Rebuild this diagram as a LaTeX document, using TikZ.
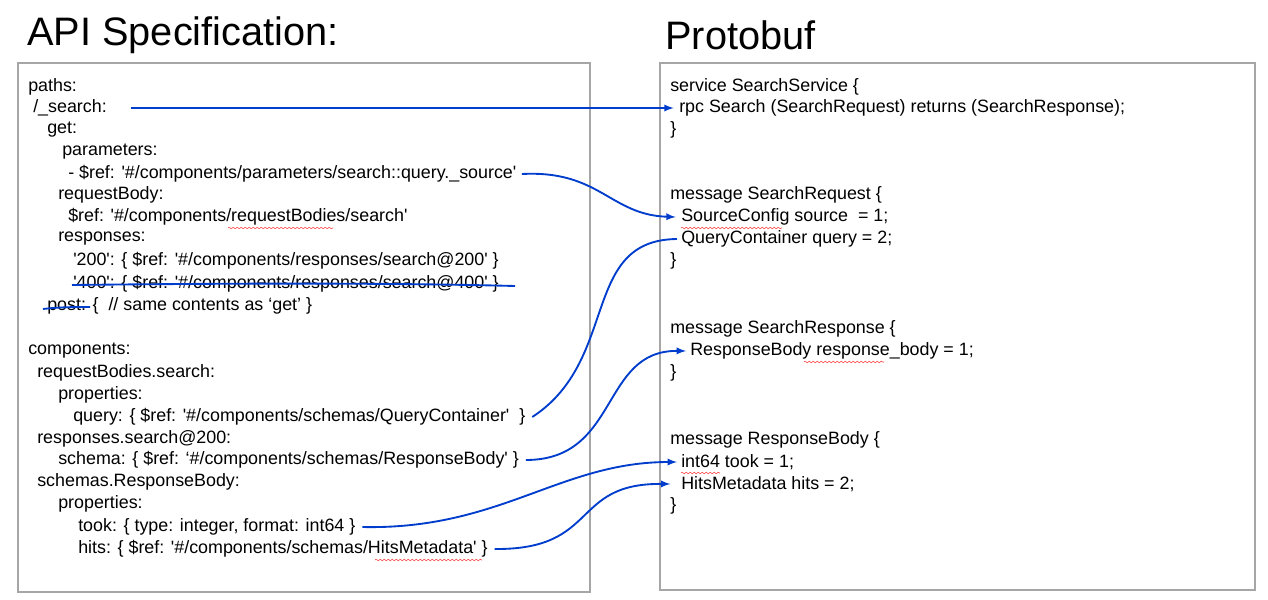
\documentclass[tikz,border=0pt]{standalone}
\usepackage{fontspec}
\setmainfont{Liberation Sans}[Ligatures=TeXOff]
\usetikzlibrary{decorations.pathmorphing}
\newcommand\qt{\symbol{39}}
\begin{document}
\begin{tikzpicture}[x=0.75pt,y=-0.75pt,
  t/.style={anchor=west,inner sep=0pt,font=\fontsize{13.4}{15}\selectfont},
  ttl/.style={anchor=west,inner sep=0pt,font=\fontsize{29.8}{33}\selectfont},
  box/.style={draw=black!35,line width=0.8pt},
  ar/.style={draw=blue!70!cyan!80!black,line width=1.4pt,-latex},
  ln/.style={draw=blue!70!cyan!80!black,line width=1.4pt},
  sq/.style={draw=red!80,line width=0.4pt,decorate,decoration={snake,amplitude=0.6pt,segment length=3pt}}]
\useasboundingbox (0,0) rectangle (1268,600);
\node[ttl] (t1) at (27,35) {API Specification:};
\node[ttl] (t2) at (665,35) {Protobuf};
\draw[box] (18,63) rectangle (590,592);
\draw[box] (660,63) rectangle (1255,590);
% left
\node[t] (l1) at (28,87) {paths:};
\node[t] (l2) at (33,108) {/\_search:};
\node[t] (l3) at (47,130) {get:};
\node[t] (l4) at (62,152) {parameters:};
\node[t] (l5) at (68,174) {- \$ref: \qt\#/components/parameters/search::query.\_source\qt};
\node[t] (l6) at (58,195) {requestBody:};
\node[t] (l7) at (68,217) {\$ref: \qt\#/components/requestBodies/search\qt};
\node[t] (l8) at (58,239) {responses:};
\node[t] (l9) at (73,261) {\qt200\qt: \{ \$ref: \qt\#/components/responses/search@200\qt\ \}};
\node[t] (l10) at (73,284) {\qt400\qt: \{ \$ref: \qt\#/components/responses/search@400\qt\ \}};
\node[t] (l11) at (47,306) {post: \{ ~// same contents as ‘get’ \}};
\node[t] (l12) at (28,351) {components:};
\node[t] (l13) at (37,373) {requestBodies.search:};
\node[t] (l14) at (58,395) {properties:};
\node[t] (l15) at (73,417) {query: \{ \$ref: \qt\#/components/schemas/QueryContainer\qt\ ~\}};
\node[t] (l16) at (37,439) {responses.search@200:};
\node[t] (l17) at (58,460) {schema: \{ \$ref: ‘\#/components/schemas/ResponseBody\qt\ \}};
\node[t] (l18) at (37,482) {schemas.ResponseBody:};
\node[t] (l19) at (58,504) {properties:};
\node[t] (l20) at (78,527) {took: \{ type: integer, format: int64 \}};
\node[t] (l21) at (78,549) {hits: \{ \$ref: \qt\#/components/schemas/HitsMetadata\qt\ \}};
% right
\node[t] (r1) at (670,87) {service SearchService \{};
\node[t] (r2) at (679,108) {rpc Search (SearchRequest) returns (SearchResponse);};
\node[t] (r3) at (670,130) {\}};
\node[t] (r4) at (670,195) {message SearchRequest \{};
\node[t] (r5) at (681,217) {SourceConfig source ~= 1;};
\node[t] (r6) at (681,239) {QueryContainer query = 2;};
\node[t] (r7) at (670,261) {\}};
\node[t] (r8) at (670,329) {message SearchResponse \{};
\node[t] (r9) at (690,351) {ResponseBody response\_body = 1;};
\node[t] (r10) at (670,373) {\}};
\node[t] (r11) at (670,440) {message ResponseBody \{};
\node[t] (r12) at (681,462) {int64 took = 1;};
\node[t] (r13) at (681,484) {HitsMetadata hits = 2;};
\node[t] (r14) at (670,506) {\}};
% squiggles
\draw[sq] (228,228) -- (333,228);
\draw[sq] (681,228) -- (782,228);
\draw[sq] (804,362) -- (884,362);
\draw[sq] (681,473) -- (720,473);
\draw[sq] (375,560) -- (482,560);
% strikes
\draw[ln] (72,285) .. controls (250,283) and (400,283) .. (515,286);
\draw[ln] (43,309) .. controls (60,307) and (75,307) .. (90,307);
% arrows
\draw[ar] ([xshift=18pt]l2.east) -- ([xshift=-4pt]r2.west);
\draw[ar] ([xshift=4pt]l5.east) .. controls (600,170) and (610,215) .. ([xshift=-4pt]r5.west);
\draw[ln] ([xshift=5pt]l15.east) .. controls (620,360) and (580,240) .. ([xshift=-3pt]r6.west);
\draw[ar] ([xshift=5pt]l17.east) .. controls (620,460) and (600,350) .. ([xshift=-3pt]r9.west);
\draw[ar] ([xshift=5pt]l20.east) .. controls (500,530) and (560,462) .. ([xshift=-3pt]r12.west);
\draw[ar] ([xshift=5pt]l21.east) .. controls (600,550) and (570,483) .. ([xshift=-8pt]r13.west);
\end{tikzpicture}
\end{document}
